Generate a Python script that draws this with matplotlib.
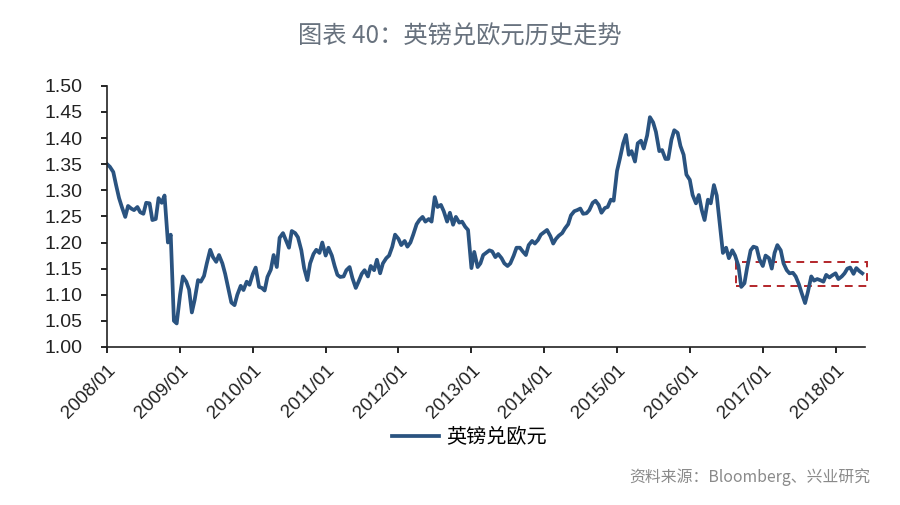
import pandas as pd
import matplotlib
matplotlib.use('Agg')
import matplotlib.pyplot as plt
import matplotlib.dates as mdates
from matplotlib.patches import Rectangle

plt.rcParams['font.family'] = ['Noto Sans CJK SC', 'DejaVu Sans']

title = '图表 40：英镑兑欧元历史走势'
series_name = '英镑兑欧元'
source = '资料来源：Bloomberg、兴业研究'

# semi-monthly GBP/EUR values, one row per year
gbp_eur = [
    # 2008
    1.350, 1.345, 1.335, 1.310, 1.285, 1.268, 1.249, 1.270, 1.265, 1.262, 1.268, 1.258,
    1.255, 1.276, 1.275, 1.243, 1.245, 1.285, 1.276, 1.290, 1.200, 1.215, 1.050, 1.045,
    # 2009
    1.100, 1.135, 1.125, 1.110, 1.066, 1.090, 1.128, 1.125, 1.136, 1.160, 1.186, 1.172,
    1.163, 1.176, 1.160, 1.140, 1.110, 1.085, 1.080, 1.100, 1.117, 1.109, 1.125, 1.119,
    # 2010
    1.140, 1.152, 1.115, 1.113, 1.108, 1.134, 1.148, 1.176, 1.153, 1.209, 1.218, 1.205,
    1.190, 1.222, 1.218, 1.210, 1.185, 1.151, 1.128, 1.160, 1.178, 1.186, 1.180, 1.200,
    # 2011
    1.175, 1.190, 1.175, 1.155, 1.138, 1.134, 1.135, 1.147, 1.153, 1.132, 1.113, 1.125,
    1.140, 1.147, 1.135, 1.155, 1.147, 1.167, 1.141, 1.160, 1.170, 1.175, 1.192, 1.215,
    # 2012
    1.207, 1.195, 1.203, 1.192, 1.200, 1.215, 1.235, 1.243, 1.249, 1.240, 1.245, 1.240,
    1.287, 1.268, 1.272, 1.260, 1.240, 1.257, 1.234, 1.249, 1.238, 1.240, 1.230, 1.224,
    # 2013
    1.151, 1.182, 1.153, 1.160, 1.176, 1.180, 1.185, 1.183, 1.172, 1.178, 1.170, 1.160,
    1.155, 1.160, 1.175, 1.190, 1.190, 1.183, 1.176, 1.195, 1.203, 1.198, 1.205, 1.215,
    # 2014
    1.220, 1.224, 1.212, 1.198, 1.207, 1.213, 1.218, 1.227, 1.235, 1.252, 1.260, 1.262,
    1.265, 1.255, 1.256, 1.262, 1.276, 1.280, 1.272, 1.257, 1.266, 1.268, 1.282, 1.280,
    # 2015
    1.337, 1.360, 1.390, 1.406, 1.368, 1.375, 1.355, 1.390, 1.395, 1.380, 1.405, 1.440,
    1.430, 1.412, 1.375, 1.377, 1.360, 1.360, 1.397, 1.415, 1.410, 1.385, 1.368, 1.330,
    # 2016
    1.320, 1.291, 1.275, 1.291, 1.262, 1.243, 1.282, 1.275, 1.310, 1.290, 1.230, 1.180,
    1.190, 1.170, 1.185, 1.175, 1.155, 1.115, 1.122, 1.153, 1.185, 1.192, 1.190, 1.168,
    # 2017
    1.155, 1.175, 1.170, 1.150, 1.180, 1.195, 1.185, 1.160, 1.147, 1.141, 1.142, 1.135,
    1.120, 1.103, 1.084, 1.105, 1.135, 1.127, 1.130, 1.128, 1.125, 1.138, 1.133, 1.137,
    # 2018
    1.141, 1.130, 1.135, 1.141, 1.150, 1.152, 1.140, 1.151, 1.145, 1.141,
]
dates = pd.date_range('2008-01-01', periods=len(gbp_eur), freq='SMS')

# highlighted range after the referendum
box_start, box_end = pd.Timestamp('2016-08-20'), pd.Timestamp('2018-06-10')
box_low, box_high = 1.117, 1.163

fig = plt.figure(figsize=(9, 5.05), dpi=100)
ax = fig.add_axes([0.119, 0.313, 0.842, 0.517])

line_color = '#2a5380'
ax.plot(dates, gbp_eur, color=line_color, lw=2.7, label=series_name)

x0 = mdates.date2num(box_start)
x1 = mdates.date2num(box_end)
ax.add_patch(Rectangle((x0, box_low), x1 - x0, box_high - box_low, fill=False,
                       edgecolor='#b3262a', lw=1.4, ls=(0, (4, 3)), clip_on=False))

ax.set_ylim(1.0, 1.5)
ax.set_yticks([1.0 + 0.05 * i for i in range(11)])
ax.set_yticklabels([f'{1.0 + 0.05 * i:.2f}' for i in range(11)])
ax.set_xlim(pd.Timestamp('2008-01-01'), pd.Timestamp('2018-05-28'))
ax.xaxis.set_major_locator(mdates.YearLocator())
ax.xaxis.set_major_formatter(mdates.DateFormatter('%Y/%m'))

for s in ['top', 'right']:
    ax.spines[s].set_visible(False)
for s in ['left', 'bottom']:
    ax.spines[s].set_linewidth(1.2)
    ax.spines[s].set_color('#222222')

ax.tick_params(axis='y', length=4.5, width=1.2, pad=13, labelsize=14, labelcolor='#222222')
ax.tick_params(axis='x', length=4.5, width=1.2, pad=6, labelsize=13.5, labelcolor='#222222')
for lab in ax.get_xticklabels():
    lab.set_rotation(45)
    lab.set_ha('right')
    lab.set_rotation_mode('anchor')
    lab.set_family(['Liberation Sans', 'DejaVu Sans'])
for lab in ax.get_yticklabels():
    lab.set_family(['Liberation Sans', 'DejaVu Sans'])

fig.text(0.511, 0.928, title, ha='center', va='center', fontsize=17.5, color='#68727e')
fig.legend(loc='center', bbox_to_anchor=(0.522, 0.134), frameon=False, fontsize=14.5,
           handlelength=2.3, handletextpad=0.4)
fig.text(0.967, 0.055, source, ha='right', va='center', fontsize=11.4, color='#8a8a8a')

fig.savefig('out.png', dpi=100)
